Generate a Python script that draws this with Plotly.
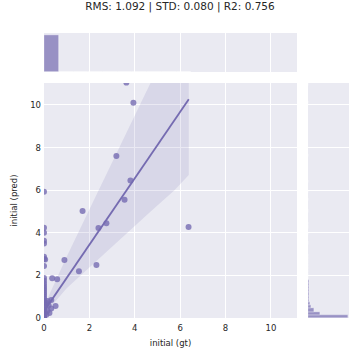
import plotly.graph_objects as go

# ---- data ----
gt = [3.63, 3.94, 3.19, 3.81, 3.55, 1.70, 2.40, 2.75, 6.37, 2.31, 1.54, 0.90,
      0.36, 0.58, 0.51, 0.32, 0.32, 0.24, 0.20, 0.15, 0.10, 0.05, 0.10, 0.15,
      0.0, 0.0, 0.0, 0.0, 0.0, 0.0, 0.0, 0.0, 0.0, 0.0, 0.0, 0.0, 0.0, 0.0,
      0.0, 0.0, 0.0, 0.0, 0.0, 0.0, 0.0, 0.0, 0.0, 0.0, 0.0, 0.0, 0.0, 0.0]
pred = [11.05, 10.10, 7.60, 6.45, 5.55, 5.02, 4.23, 4.45, 4.27, 2.49, 2.20, 2.72,
        1.86, 1.82, 0.56, 0.45, 0.85, 0.23, 0.60, 0.80, 0.70, 2.75, 0.15, 0.35,
        5.93, 4.24, 4.00, 3.62, 3.50, 2.88, 2.77, 2.44, 1.88, 1.75, 1.62, 1.50,
        1.40, 1.30, 1.20, 1.10, 1.00, 0.90, 0.80, 0.70, 0.60, 0.50, 0.40, 0.30,
        0.20, 0.10, 0.05, 0.00]

fit_x = [0.0, 6.38]
fit_y = [0.32, 10.27]

band_x = [0.0, 1.0, 2.0, 3.33, 4.7, 5.75, 6.38]
band_upper = [0.55, 2.88, 5.09, 8.03, 11.06, 13.4, 14.75]
band_lower = [0.15, 1.40, 2.35, 3.66, 5.00, 6.00, 6.71]

# marginal histogram of gt (x)
hist_x_centers = [0.325, 0.975, 1.625, 2.275, 2.925, 3.575, 4.225, 4.875, 5.525, 6.175]
hist_x_counts = [400, 1, 2, 3, 2, 4, 1, 0, 0, 1]
hist_x_width = 0.65

# marginal histogram of pred (y)
hist_y_centers = [0.075, 0.225, 0.375, 0.525, 0.675, 0.825, 0.975, 1.125, 1.275, 1.425,
                  1.575, 1.725, 1.875, 2.025, 2.175, 2.325, 2.475, 2.625, 2.775, 2.925,
                  3.525, 3.975, 4.275, 4.425, 5.025, 5.575, 5.925, 6.425, 7.625,
                  10.125, 10.975]
hist_y_counts = [400, 124, 62, 31, 21, 14, 10, 8, 7, 7, 6, 6, 5, 4, 3, 3, 2, 3, 2, 3,
                 2, 1, 2, 1, 1, 1, 1, 1, 1, 1, 1]
hist_y_width = 0.15

title_text = "RMS: 1.092 | STD: 0.080 | R2: 0.756"
x_title = "initial (gt)"
y_title = "initial (pred)"
tick_vals = [0, 2, 4, 6, 8, 10]

# ---- styling ----
col = "rgb(117,107,177)"
bg = "#eaeaf2"
font_fam = "DejaVu Sans"
txt = "#262626"

fig = go.Figure()

fig.add_trace(go.Scatter(
    x=band_x + band_x[::-1], y=band_upper + band_lower[::-1],
    fill="toself", fillcolor="rgba(117,107,177,0.15)", line=dict(width=0),
    mode="lines", hoverinfo="skip", showlegend=False, xaxis="x", yaxis="y"))

fig.add_trace(go.Scatter(
    x=gt, y=pred, mode="markers",
    marker=dict(color=col, size=6, opacity=0.8, line=dict(width=0)),
    showlegend=False, xaxis="x", yaxis="y"))

fig.add_trace(go.Scatter(
    x=fit_x, y=fit_y, mode="lines", line=dict(color=col, width=1.8),
    showlegend=False, xaxis="x", yaxis="y"))

fig.add_trace(go.Bar(
    x=hist_x_centers, y=hist_x_counts, width=hist_x_width,
    marker=dict(color="rgba(117,107,177,0.7)", line=dict(color="white", width=0.5)),
    showlegend=False, xaxis="x2", yaxis="y2"))

fig.add_trace(go.Bar(
    y=hist_y_centers, x=hist_y_counts, width=hist_y_width, orientation="h",
    marker=dict(color="rgba(117,107,177,0.7)", line=dict(color="white", width=0.3)),
    showlegend=False, xaxis="x3", yaxis="y3"))

xdom = [44 / 360, 297 / 360]
ydom = [(360 - 318) / 360, (360 - 83) / 360]
grid = dict(showgrid=True, gridcolor="white", gridwidth=1, zeroline=False,
            showline=False, ticks="", automargin=False)
nogrid = dict(showgrid=False, zeroline=False, showline=False, ticks="",
              showticklabels=False, automargin=False)

fig.update_layout(
    width=360, height=360, margin=dict(l=0, r=0, t=0, b=0, autoexpand=False),
    paper_bgcolor="white", plot_bgcolor=bg,
    font=dict(family=font_fam, color=txt, size=8),
    bargap=0,
    title=dict(text=title_text, x=0.5, xanchor="center", y=1 - 6 / 360,
               yanchor="middle", automargin=False,
               font=dict(size=10.5, color=txt, family=font_fam)),
    xaxis=dict(domain=xdom, range=[0, 11.15], tickvals=tick_vals, anchor="y",
               title=dict(text=x_title, font=dict(size=8.5), standoff=8),
               tickfont=dict(size=8.5), ticklabelstandoff=3, **grid),
    yaxis=dict(domain=ydom, range=[0, 11.03], tickvals=tick_vals, anchor="x",
               title=dict(text=y_title, font=dict(size=8.5), standoff=11),
               tickfont=dict(size=8.5), ticklabelstandoff=2, **grid),
    xaxis2=dict(domain=xdom, range=[0, 11.15], tickvals=tick_vals, anchor="y2",
                showticklabels=False, **grid),
    yaxis2=dict(domain=[(360 - 72) / 360, (360 - 33) / 360], range=[0, 420],
                anchor="x2", **nogrid),
    xaxis3=dict(domain=[308 / 360, 349 / 360], range=[0, 415], anchor="y3", **nogrid),
    yaxis3=dict(domain=ydom, range=[0, 11.03], tickvals=tick_vals, anchor="x3",
                showticklabels=False, **grid),
)

fig.write_html("out.html", config={"displayModeBar": False},
               post_script="document.body.style.margin='0';"
                           "document.body.style.overflow='hidden';")
